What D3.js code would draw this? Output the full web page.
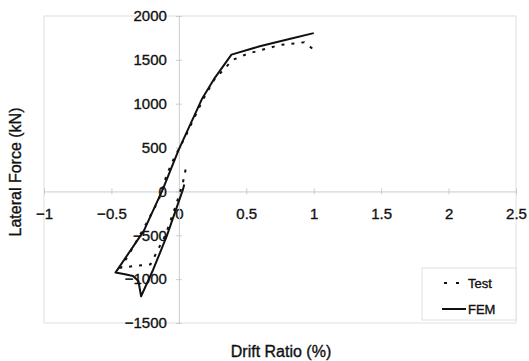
<!DOCTYPE html>
<html>
<head>
<meta charset="utf-8">
<script src="https://cdn.jsdelivr.net/npm/d3@7"></script>
<style>
  body { margin: 0; background: #fff; }
  svg { display: block; font-family: "Liberation Sans", Arial, sans-serif; }
  .lbl { fill: #111; stroke: #111; stroke-width: 0.35px; }
</style>
</head>
<body>
<svg id="chart" width="529" height="361"></svg>
<script>
// drift ratio (%) / lateral force (kN)
const femDrift = [0.04, 0.03, -0.09, -0.19, -0.28, -0.30, -0.34, -0.40, -0.47, -0.26, -0.12, 0.0, 0.17, 0.26, 0.39, 0.60, 0.85, 1.0];
const femForce = [80, 20, -510, -890, -1195, -1020, -965, -945, -925, -450, 20, 480, 1050, 1280, 1560, 1655, 1750, 1805];

const testDrift = [0.05, 0.03, -0.02, -0.10, -0.21, -0.33, -0.43, -0.36, -0.26, -0.15, -0.09, -0.04, 0.045, 0.18, 0.26, 0.40, 0.51, 0.75, 0.93, 1.0];
const testForce = [250, 100, -150, -500, -830, -850, -870, -690, -420, -100, 190, 365, 615, 1050, 1270, 1500, 1570, 1670, 1700, 1617];

const xTicks = [-1, -0.5, 0, 0.5, 1, 1.5, 2, 2.5];
const yTicks = [-1500, -1000, -500, 0, 500, 1000, 1500, 2000];
const seriesNames = ['Test', 'FEM'];

const svg = d3.select('#chart');

const x = d3.scaleLinear().domain([-1, 2.5]).range([44, 516]);
const y = d3.scaleLinear().domain([-1500, 2000]).range([323, 16]);

// plot area frame
svg.append('rect')
  .attr('x', x(-1)).attr('y', y(2000))
  .attr('width', x(2.5) - x(-1)).attr('height', y(-1500) - y(2000))
  .attr('fill', 'none')
  .attr('stroke', '#e0e0e0')
  .attr('stroke-width', 1);

// x axis through y = 0
const xAxis = svg.append('g')
  .attr('transform', `translate(0,${y(0)})`)
  .call(d3.axisBottom(x).tickValues(xTicks).tickSize(3).tickFormat(d3.format('')));
xAxis.select('.domain').attr('stroke', '#cccccc');
xAxis.selectAll('.tick line').attr('stroke', '#cccccc').attr('y1', -3);
xAxis.selectAll('.tick text')
  .attr('class', 'lbl')
  .attr('y', 28)
  .attr('dy', 0)
  .style('font-size', '15px');

// y axis through x = 0
const yAxis = svg.append('g')
  .attr('transform', `translate(${x(0)},0)`)
  .call(d3.axisLeft(y).tickValues(yTicks).tickSize(3).tickFormat(d3.format('')));
yAxis.select('.domain').attr('stroke', '#cccccc');
yAxis.selectAll('.tick line').attr('stroke', '#cccccc').attr('x1', 3);
yAxis.selectAll('.tick text')
  .attr('class', 'lbl')
  .attr('x', -12)
  .style('font-size', '15px');

const line = d3.line()
  .x(d => x(d[0]))
  .y(d => y(d[1]));

const testPts = testDrift.map((d, i) => [d, testForce[i]]);
const femPts = femDrift.map((d, i) => [d, femForce[i]]);

svg.append('path')
  .datum(testPts)
  .attr('d', line)
  .attr('fill', 'none')
  .attr('stroke', '#111')
  .attr('stroke-width', 2)
  .attr('stroke-dasharray', '3,7');

svg.append('path')
  .datum(femPts)
  .attr('d', line)
  .attr('fill', 'none')
  .attr('stroke', '#111')
  .attr('stroke-width', 2)
  .attr('stroke-linejoin', 'round');

// axis titles
svg.append('text')
  .attr('class', 'lbl')
  .attr('x', 281).attr('y', 357)
  .attr('text-anchor', 'middle')
  .style('font-size', '16px')
  .text('Drift Ratio (%)');

svg.append('text')
  .attr('class', 'lbl')
  .attr('transform', 'translate(21,172) rotate(-90)')
  .attr('text-anchor', 'middle')
  .style('font-size', '16px')
  .text('Lateral Force (kN)');

// legend
const legend = svg.append('g');
legend.append('rect')
  .attr('x', 422).attr('y', 268)
  .attr('width', 94).attr('height', 52)
  .attr('fill', '#fff')
  .attr('stroke', '#e0e0e0');

seriesNames.forEach((name, i) => {
  const ly = 283 + i * 26;
  legend.append('line')
    .attr('x1', 442).attr('x2', 466)
    .attr('y1', ly).attr('y2', ly)
    .attr('stroke', '#111')
    .attr('stroke-width', 2)
    .attr('stroke-dasharray', name === 'Test' ? '3,9' : null)
    .attr('stroke-dashoffset', name === 'Test' ? -2 : null);
  legend.append('text')
    .attr('class', 'lbl')
    .attr('x', 468).attr('y', ly)
    .attr('dy', '0.35em')
    .style('font-size', '13px')
    .text(name);
});
</script>
</body>
</html>
